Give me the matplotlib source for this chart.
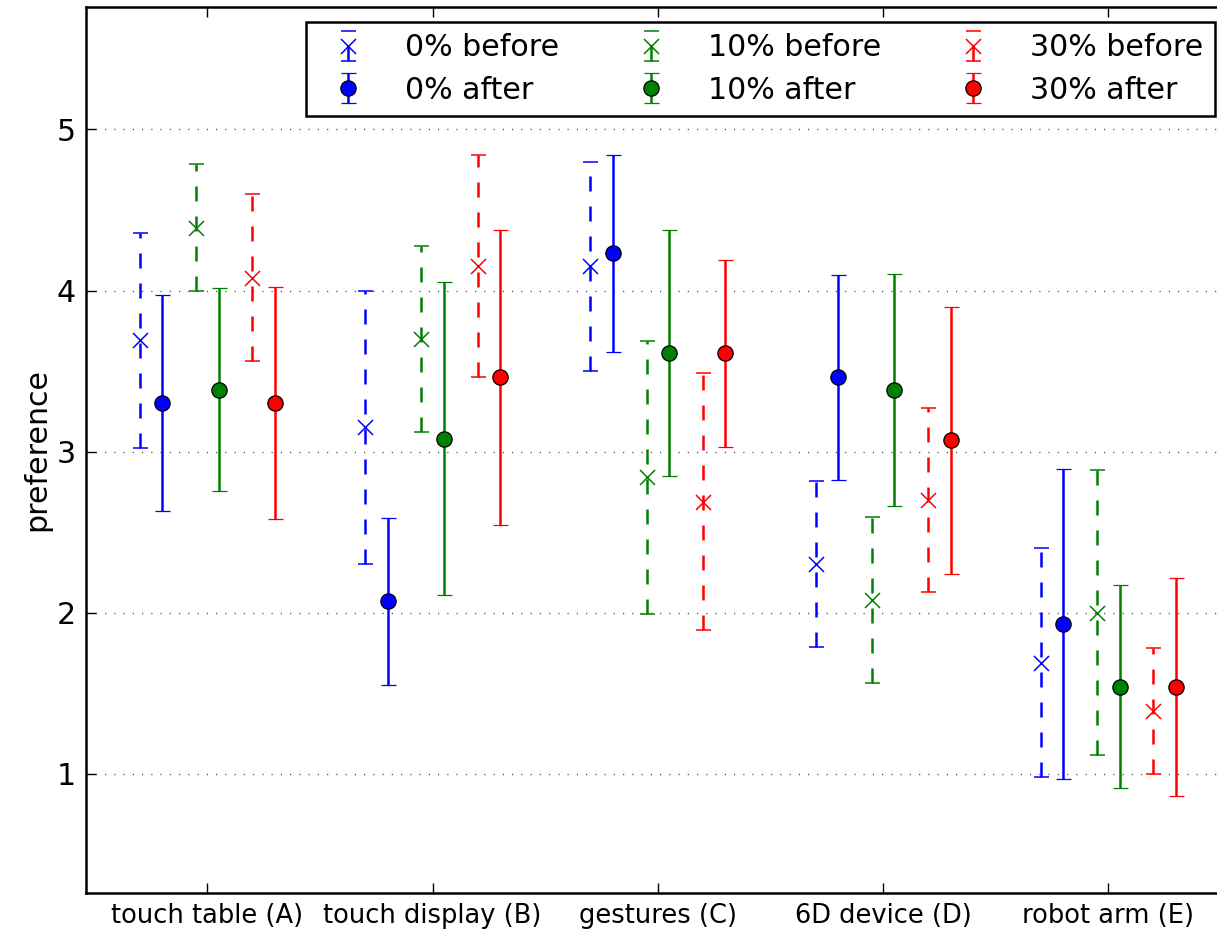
import matplotlib
matplotlib.use("Agg")
import matplotlib.pyplot as plt
import numpy as np

# -------------------------
# data
# -------------------------

devices = ["touch table (A)", "touch display (B)", "gestures (C)",
           "6D device (D)", "robot arm (E)"]
groups = ["0%", "10%", "30%"]
colors = ["b", "g", "r"]

before_mean = [
    [3.69, 3.15, 4.15, 2.30, 1.69],   # 0%
    [4.39, 3.70, 2.84, 2.08, 2.00],   # 10%
    [4.08, 4.15, 2.69, 2.70, 1.39],   # 30%
]
before_err = [
    [0.67, 0.85, 0.65, 0.515, 0.71],
    [0.396, 0.577, 0.846, 0.516, 0.884],
    [0.52, 0.69, 0.80, 0.57, 0.39],
]
after_mean = [
    [3.30, 2.07, 4.23, 3.46, 1.93],
    [3.385, 3.08, 3.614, 3.38, 1.54],
    [3.30, 3.46, 3.61, 3.07, 1.54],
]
after_err = [
    [0.67, 0.517, 0.61, 0.634, 0.965],
    [0.63, 0.97, 0.764, 0.72, 0.63],
    [0.72, 0.916, 0.58, 0.83, 0.675],
]

# -------------------------
# plot
# -------------------------

fs = 21.6
fig = plt.figure(figsize=(12.17, 9.33), dpi=100)
ax = fig.add_axes([0.0704, 0.0429, 0.9403, 0.9496])

x = np.arange(len(devices))
handles = []
labels = []
for g in range(3):
    off = (g - 1) * 0.25
    eb = ax.errorbar(x + off - 0.05, before_mean[g], yerr=before_err[g],
                     fmt="x", color=colors[g], ecolor=colors[g],
                     markersize=10.8, mew=1.1, elinewidth=1.8,
                     capsize=5.4, capthick=1.8, zorder=3)
    eb[2][0].set_linestyle((0, (6, 6)))
    ea = ax.errorbar(x + off + 0.05, after_mean[g], yerr=after_err[g],
                     fmt="o", color=colors[g], ecolor=colors[g],
                     markersize=11, mec="k", mew=0.9, elinewidth=1.8,
                     capsize=5.4, capthick=1.8, zorder=3)
    handles += [eb, ea]
    labels += [groups[g] + " before", groups[g] + " after"]

ax.set_xlim(-0.54, 4.54)
ax.set_ylim(0.26, 5.76)
ax.set_yticks([1, 2, 3, 4, 5])
ax.set_xticks(x)
ax.set_xticklabels(devices, fontsize=18.5)
ax.tick_params(axis="y", labelsize=fs)
ax.tick_params(direction="in", length=7.2, width=1.0, top=True, right=True,
               pad=7)
ax.set_ylabel("preference", fontsize=fs)

ax.yaxis.grid(True, color="0.3", linestyle=(0, (1, 6.4)), linewidth=0.9)
ax.set_axisbelow(True)
for s in ax.spines.values():
    s.set_linewidth(1.8)

leg = ax.legend(handles, labels, loc="upper right", ncol=3, numpoints=1,
                fontsize=fs, fancybox=False, borderaxespad=0.5,
                handlelength=2.0, handletextpad=0.9, columnspacing=2.07,
                labelspacing=0.45, borderpad=0.38)
leg.get_frame().set_edgecolor("k")
leg.get_frame().set_linewidth(1.8)
leg.get_frame().set_alpha(1)

fig.savefig("out.png", dpi=100)
